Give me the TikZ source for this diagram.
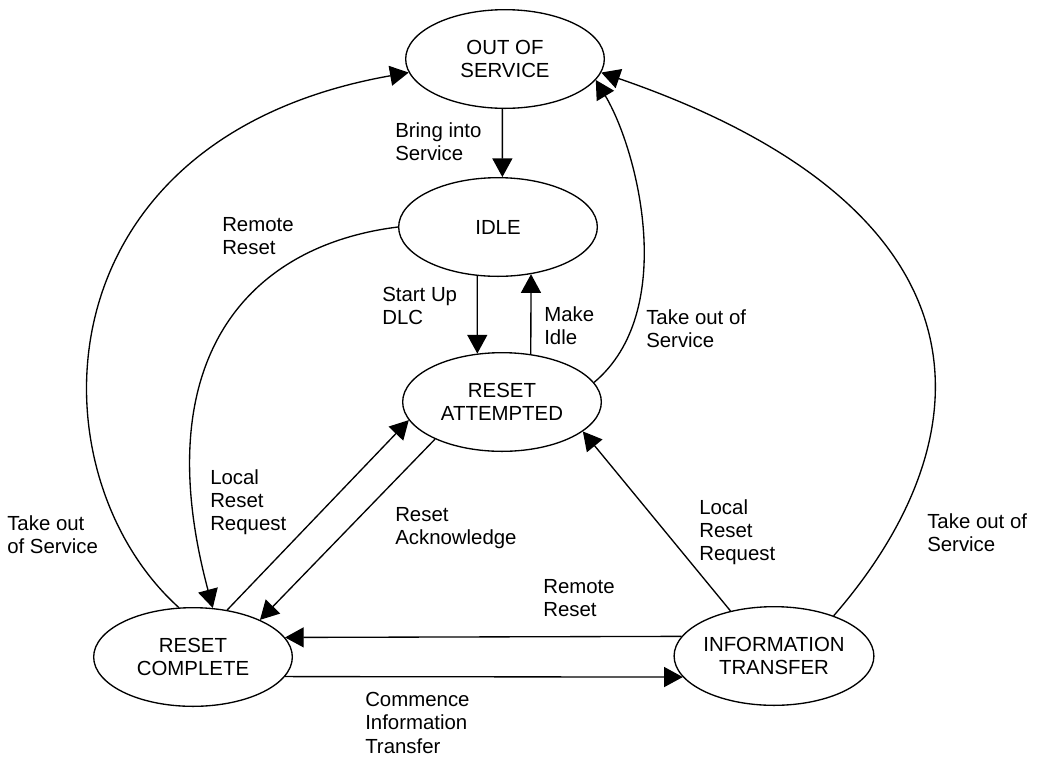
\documentclass[tikz,border=0pt]{standalone}
\usepackage{fontspec}
\setmainfont{Liberation Sans}
\usetikzlibrary{arrows.meta,shapes.geometric}

\begin{document}
\begin{tikzpicture}[x=0.75pt, y=-0.75pt,
    font=\fontsize{15.3}{17.6}\selectfont,
    state/.style={draw, ellipse, line width=1pt, minimum width=149pt, minimum height=74pt, inner sep=0pt, align=center},
    arr/.style={line width=1pt, -{Triangle[length=14pt, width=15pt]}},
    lbl/.style={anchor=north west, inner sep=0pt, align=left}]

    \useasboundingbox (0,0) rectangle (1039,758);

    % states
    \node[state] (oos) at (505,59) {OUT OF\\SERVICE};
    \node[state] (idle) at (498,227) {IDLE};
    \node[state] (ra) at (502,402) {RESET\\ATTEMPTED};
    \node[state] (rc) at (193,657) {RESET\\COMPLETE};
    \node[state] (it) at (774,656) {INFORMATION\\TRANSFER};

    % transitions
    \draw[arr] (oos.-93) -- (idle.85);
    \draw[arr] (idle.-113) -- (ra.117);
    \draw[arr] (ra.59) -- (idle.-55);
    \draw[arr] (ra.12) .. controls +(40:83pt) and +(-59:61pt) .. (oos.-13);
    \draw[arr] (rc.106) .. controls +(138:150pt) and +(190:285pt) .. (oos.188);
    \draw[arr] (it.34) .. controls +(49:180pt) and +(-19:315pt) .. (oos.-8);
    \draw[arr] (idle.180) .. controls +(187:112pt) and +(105:195pt) .. (rc.68);
    \draw[arr] (rc.54) -- (ra.191);
    \draw[arr] (ra.209) -- (rc.29);
    \draw[arr] (it.168) -- (rc.12);
    \draw[arr] (rc.-12) -- (it.193);
    \draw[arr] (it.134) -- (ra.-20);

    % labels
    \node[lbl] (lbring) at (395,122) {Bring into\\Service};
    \node[lbl] (lremup) at (222,217) {Remote\\Reset};
    \node[lbl] (lstart) at (382,287) {Start Up\\DLC};
    \node[lbl] (lmake) at (544,306) {Make\\Idle};
    \node[lbl] (ltakemid) at (646,309) {Take out of\\Service};
    \node[lbl] (llocleft) at (210,469) {Local\\Reset\\Request};
    \node[lbl] (ltakeleft) at (7,515) {Take out\\of Service};
    \node[lbl] (lack) at (395,507) {Reset\\Acknowledge};
    \node[lbl] (lremlow) at (543,579) {Remote\\Reset};
    \node[lbl] (llocright) at (699,499) {Local\\Reset\\Request};
    \node[lbl] (ltakeright) at (927,513) {Take out of\\Service};
    \node[lbl] (lcomm) at (365,692) {Commence\\Information\\Transfer};
\end{tikzpicture}
\end{document}
